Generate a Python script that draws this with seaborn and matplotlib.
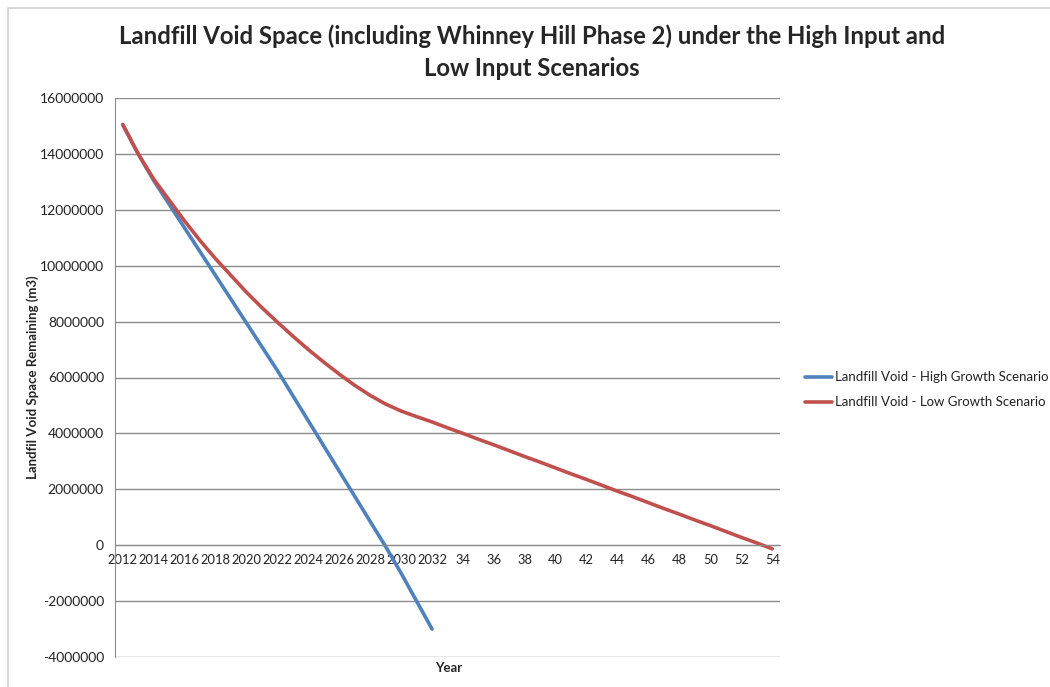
import seaborn as sns
import pandas as pd
import matplotlib.pyplot as plt
from matplotlib.patches import Rectangle
from matplotlib.ticker import FixedLocator

years = list(range(2012, 2055))
tick_labels = [str(y) if y <= 2032 else str(y - 2000) for y in years[::2]]

high_growth = [15050000, 14000000, 13050000, 12200000, 11350000, 10500000, 9650000,
               8800000, 7950000, 7100000, 6250000, 5350000, 4450000, 3550000, 2650000,
               1750000, 850000, -50000, -1000000, -2000000, -3000000]

low_growth = [15050000, 14000000, 13100000, 12350000, 11600000, 10900000, 10250000,
              9650000, 9050000, 8500000, 7980000, 7480000, 7000000, 6550000, 6120000,
              5720000, 5360000, 5050000, 4800000, 4600000, 4410000, 4200000, 4000000,
              3790000, 3590000, 3380000, 3170000, 2970000, 2760000, 2550000, 2350000,
              2140000, 1930000, 1730000, 1520000, 1310000, 1110000, 900000, 700000,
              490000, 280000, 80000, -130000]

series_names = ['Landfill Void - High Growth Scenario', 'Landfill Void - Low Growth Scenario']
colors = ['#4F81BD', '#C0504D']

df = pd.concat([
    pd.DataFrame({'idx': range(len(high_growth)), 'value': high_growth, 'series': series_names[0]}),
    pd.DataFrame({'idx': range(len(low_growth)), 'value': low_growth, 'series': series_names[1]}),
])

sns.set_style("white")
plt.rcParams['font.family'] = ['Lato', 'DejaVu Sans']

fig = plt.figure(figsize=(10.5, 6.87), dpi=100)
ax = fig.add_axes([115/1050, 1 - 657/687, 665/1050, 559/687])

sns.lineplot(data=df, x='idx', y='value', hue='series', palette=colors,
             linewidth=2.6, ax=ax, legend=False)

ax.set_xlim(-0.5, len(years) - 0.5)
ax.set_ylim(-4000000, 16000000)
ax.set_yticks(range(-4000000, 16000001, 2000000))
ax.set_yticklabels([str(v) for v in range(-4000000, 16000001, 2000000)], fontsize=10, color='#222222')
ax.yaxis.grid(True, color='#8c8c8c', linewidth=1)
ax.tick_params(axis='y', length=5, color='#8c8c8c', pad=3)

ax.spines['bottom'].set_position(('data', 0))
for s in ['top', 'right']:
    ax.spines[s].set_visible(False)
for s in ['left', 'bottom']:
    ax.spines[s].set_color('#8c8c8c')
ax.set_xticks(range(0, len(years), 2))
ax.set_xticklabels(tick_labels, fontsize=9.3, color='#222222')
ax.xaxis.set_minor_locator(FixedLocator([i - 0.5 for i in range(len(years) + 1)]))
ax.tick_params(axis='x', which='major', length=0, pad=6)
ax.tick_params(axis='x', which='minor', length=5, color='#8c8c8c')

ax.set_xlabel('')
ax.set_ylabel('')
fig.text(449/1050, 1 - 668/687, 'Year', ha='center', va='center', fontsize=9.5, fontweight='bold')
fig.text(33/1050, 1 - 377/687, 'Landfil Void Space Remaining (m3)', rotation=90,
         ha='center', va='center', fontsize=9.5, fontweight='bold')

fig.text(532/1050, 1 - 36/687, 'Landfill Void Space (including Whinney Hill Phase 2) under the High Input and',
         ha='center', va='center', fontsize=17.2, fontweight='bold')
fig.text(532/1050, 1 - 68/687, 'Low Input Scenarios',
         ha='center', va='center', fontsize=17.2, fontweight='bold')

# legend drawn manually to the right
for i, (name, c) in enumerate(zip(series_names, colors)):
    yy = 1 - (377 + i * 25) / 687
    fig.add_artist(plt.Line2D([805/1050, 832/1050], [yy, yy], color=c, linewidth=2.6))
    fig.text(835/1050, yy, name, ha='left', va='center', fontsize=9.5, color='#222222')

fig.add_artist(Rectangle((8/1050, -0.01), 1.2, 1 - 8/687 + 0.01, transform=fig.transFigure,
                         fill=False, edgecolor='#d0d0d0', linewidth=1.2))

fig.savefig('out.png', dpi=100)
